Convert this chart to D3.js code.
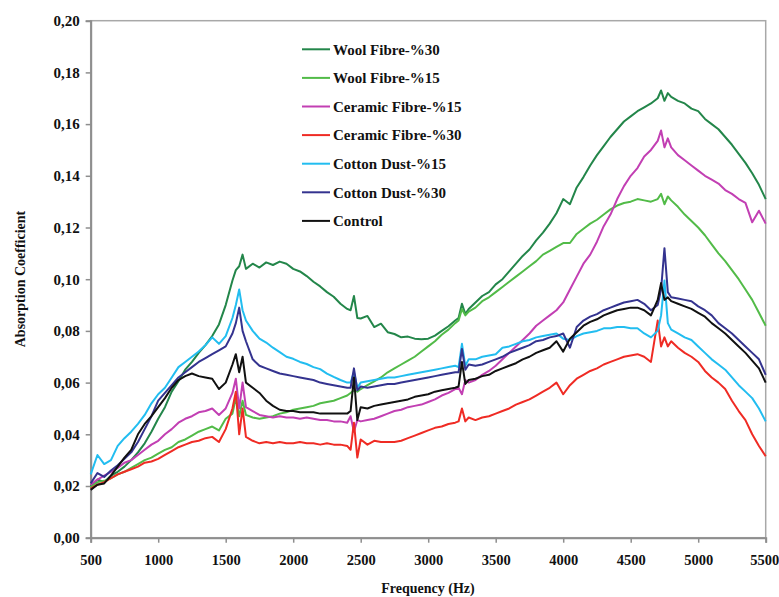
<!DOCTYPE html>
<html>
<head>
<meta charset="utf-8">
<script src="https://cdn.jsdelivr.net/npm/d3@7/dist/d3.min.js"></script>
<style>
  body { margin: 0; background: #fff; }
  text { font-family: "Liberation Serif", "Times New Roman", serif; font-weight: bold; fill: #111; }
</style>
</head>
<body>
<svg id="chart" width="779" height="597"></svg>
<script>
// Measurement frequencies (Hz)
const frequencies = [
  500,550,600,650,700,750,800,850,900,950,1000,1050,1100,1150,1200,1250,1300,1350,1400,1450,1500,1550,
  1575,1600,1625,1650,
  1700,1750,1800,1850,1900,1950,2000,2050,2100,2150,2200,2250,2300,2350,2400,
  2425,2450,2475,2500,
  2550,2600,2650,2700,2750,2800,2850,2900,2950,3000,3050,3100,3150,3200,
  3225,3250,3275,3300,
  3350,3400,3450,3500,3550,3600,3650,3700,3750,3800,3850,3900,3950,4000,4050,4100,4150,4200,4250,4300,4350,4400,4450,4500,4550,4600,4650,4700,
  4725,4750,4775,4800,
  4850,4900,4950,5000,5050,5100,5150,5200,5250,5300,5350,5400,5450,5500
];

const woolFibre30 = [
  .0200,.0225,.0215,.0240,.0255,.0275,.0300,.0330,.0365,.0410,.0460,.0505,.0565,.0605,.0650,.0680,.0715,.0745,.0780,.0825,.0900,.0995,
  .1035,.1050,.1095,.1040,
  .1060,.1045,.1065,.1055,.1068,.1060,.1040,.1030,.1012,.0990,.0972,.0950,.0932,.0905,.0885,
  .0880,.0935,.0850,.0848,
  .0858,.0815,.0828,.0795,.0788,.0775,.0778,.0770,.0768,.0770,.0782,.0800,.0818,.0840,
  .0850,.0905,.0865,.0885,
  .0910,.0935,.0950,.0980,.1000,.1030,.1060,.1090,.1115,.1150,.1180,.1215,.1255,.1310,.1290,.1355,.1395,.1440,.1480,.1515,.1550,.1580,.1610,.1630,.1650,.1665,.1680,.1700,
  .1730,.1690,.1720,.1705,
  .1690,.1680,.1660,.1650,.1620,.1600,.1580,.1550,.1520,.1485,.1450,.1410,.1365,.1310
];

const woolFibre15 = [
  .0195,.0215,.0220,.0230,.0245,.0255,.0270,.0285,.0300,.0310,.0325,.0340,.0350,.0370,.0380,.0395,.0410,.0420,.0430,.0415,.0460,.0480,
  .0540,.0470,.0530,.0475,
  .0465,.0460,.0465,.0470,.0480,.0485,.0495,.0500,.0505,.0510,.0520,.0525,.0530,.0540,.0550,
  .0560,.0570,.0565,.0575,
  .0590,.0605,.0620,.0640,.0655,.0670,.0685,.0700,.0720,.0740,.0760,.0785,.0805,.0830,
  .0840,.0885,.0860,.0875,
  .0890,.0915,.0930,.0950,.0970,.0990,.1010,.1030,.1050,.1070,.1095,.1110,.1125,.1140,.1140,.1175,.1195,.1215,.1230,.1250,.1270,.1285,.1295,.1300,.1310,.1305,.1300,.1310,
  .1330,.1290,.1320,.1305,
  .1280,.1250,.1225,.1200,.1170,.1135,.1100,.1070,.1035,.1000,.0960,.0920,.0870,.0820
];

const ceramicFibre15 = [
  .0205,.0225,.0240,.0255,.0270,.0290,.0300,.0320,.0340,.0360,.0375,.0400,.0420,.0445,.0460,.0470,.0485,.0490,.0500,.0475,.0500,.0560,
  .0615,.0500,.0600,.0505,
  .0490,.0475,.0470,.0465,.0470,.0465,.0465,.0460,.0465,.0460,.0455,.0455,.0450,.0450,.0445,
  .0470,.0410,.0455,.0450,
  .0455,.0460,.0470,.0480,.0490,.0495,.0505,.0510,.0515,.0525,.0535,.0550,.0560,.0575,
  .0580,.0555,.0610,.0600,
  .0610,.0630,.0645,.0665,.0690,.0715,.0740,.0765,.0790,.0820,.0840,.0860,.0880,.0910,.0960,.1010,.1060,.1095,.1145,.1205,.1250,.1310,.1360,.1400,.1430,.1475,.1500,.1535,
  .1575,.1510,.1545,.1510,
  .1480,.1460,.1440,.1420,.1400,.1385,.1370,.1345,.1330,.1310,.1295,.1220,.1265,.1215
];

const ceramicFibre30 = [
  .0190,.0205,.0215,.0230,.0245,.0255,.0265,.0275,.0290,.0295,.0305,.0320,.0335,.0350,.0360,.0370,.0375,.0385,.0390,.0370,.0420,.0500,
  .0565,.0400,.0500,.0390,
  .0375,.0365,.0370,.0365,.0370,.0365,.0365,.0370,.0365,.0365,.0360,.0365,.0360,.0360,.0355,
  .0340,.0445,.0310,.0380,
  .0360,.0375,.0370,.0370,.0370,.0375,.0385,.0395,.0405,.0415,.0425,.0430,.0440,.0445,
  .0450,.0500,.0450,.0465,
  .0455,.0465,.0470,.0480,.0490,.0500,.0515,.0525,.0535,.0550,.0565,.0580,.0600,.0555,.0590,.0615,.0630,.0645,.0655,.0670,.0680,.0690,.0700,.0705,.0710,.0700,.0680,.0840,
  .0740,.0775,.0740,.0760,
  .0735,.0715,.0700,.0680,.0645,.0620,.0600,.0575,.0530,.0490,.0455,.0400,.0355,.0315
];

const cottonDust15 = [
  .0245,.0320,.0285,.0300,.0355,.0385,.0410,.0440,.0475,.0520,.0555,.0580,.0620,.0660,.0680,.0700,.0720,.0745,.0775,.0750,.0780,.0850,
  .0900,.0960,.0880,.0840,
  .0800,.0770,.0755,.0735,.0718,.0700,.0692,.0680,.0672,.0660,.0652,.0635,.0622,.0610,.0600,
  .0600,.0640,.0580,.0600,
  .0605,.0610,.0615,.0620,.0620,.0625,.0630,.0635,.0640,.0645,.0650,.0655,.0660,.0665,
  .0660,.0750,.0665,.0690,
  .0690,.0700,.0705,.0710,.0735,.0740,.0750,.0760,.0765,.0775,.0780,.0785,.0790,.0770,.0765,.0780,.0790,.0795,.0800,.0810,.0810,.0815,.0815,.0810,.0810,.0790,.0775,.0800,
  .0860,.0995,.0830,.0805,
  .0790,.0775,.0765,.0740,.0715,.0690,.0670,.0650,.0620,.0590,.0565,.0540,.0500,.0450
];

const cottonDust30 = [
  .0210,.0250,.0235,.0260,.0280,.0305,.0330,.0370,.0420,.0470,.0530,.0560,.0590,.0620,.0640,.0660,.0680,.0695,.0710,.0725,.0740,.0790,
  .0830,.0890,.0800,.0760,
  .0690,.0665,.0655,.0645,.0635,.0630,.0625,.0620,.0615,.0610,.0600,.0595,.0590,.0585,.0580,
  .0580,.0655,.0570,.0585,
  .0580,.0585,.0590,.0595,.0595,.0600,.0605,.0610,.0615,.0620,.0625,.0630,.0635,.0640,
  .0640,.0730,.0650,.0670,
  .0665,.0670,.0680,.0690,.0700,.0715,.0725,.0735,.0745,.0760,.0765,.0775,.0780,.0790,.0735,.0815,.0840,.0855,.0865,.0880,.0890,.0900,.0910,.0915,.0920,.0905,.0880,.0900,
  .0960,.1120,.0950,.0930,
  .0925,.0920,.0915,.0895,.0880,.0860,.0830,.0810,.0790,.0765,.0740,.0715,.0690,.0630
];

const control = [
  .0185,.0205,.0210,.0240,.0275,.0310,.0340,.0400,.0440,.0470,.0505,.0540,.0580,.0610,.0625,.0635,.0625,.0620,.0615,.0575,.0600,.0670,
  .0710,.0640,.0700,.0600,
  .0580,.0560,.0530,.0510,.0495,.0490,.0490,.0485,.0485,.0485,.0480,.0480,.0480,.0480,.0480,
  .0490,.0620,.0455,.0505,
  .0500,.0510,.0515,.0520,.0525,.0530,.0535,.0545,.0550,.0555,.0565,.0570,.0575,.0580,
  .0585,.0680,.0595,.0610,
  .0615,.0625,.0630,.0645,.0655,.0665,.0675,.0690,.0700,.0715,.0725,.0735,.0760,.0720,.0770,.0795,.0820,.0835,.0845,.0860,.0870,.0880,.0885,.0890,.0890,.0880,.0860,.0920,
  .0985,.0920,.0930,.0915,
  .0905,.0895,.0885,.0870,.0855,.0830,.0810,.0790,.0765,.0740,.0715,.0685,.0655,.0600
];

const seriesNames = ["Wool Fibre-%30", "Wool Fibre-%15", "Ceramic Fibre-%15", "Ceramic Fibre-%30",
                     "Cotton Dust-%15", "Cotton Dust-%30", "Control"];
const seriesValues = [woolFibre30, woolFibre15, ceramicFibre15, ceramicFibre30, cottonDust15, cottonDust30, control];
const seriesColors = ["#23864a", "#52bb48", "#c23fb3", "#ef2b24", "#22bdf0", "#34338f", "#111111"];

const xTicks = [500, 1000, 1500, 2000, 2500, 3000, 3500, 4000, 4500, 5000, 5500];
const yTicks = [0, 0.02, 0.04, 0.06, 0.08, 0.10, 0.12, 0.14, 0.16, 0.18, 0.20];

const svg = d3.select("#chart");
const plot = { left: 90.7, right: 765.7, top: 20.7, bottom: 537.7 };

const x = d3.scaleLinear().domain([500, 5500]).range([plot.left, plot.right]);
const y = d3.scaleLinear().domain([0, 0.2]).range([plot.bottom, plot.top]);

// plot-area frame
svg.append("rect")
  .attr("x", plot.left).attr("y", plot.top)
  .attr("width", plot.right - plot.left).attr("height", plot.bottom - plot.top)
  .attr("fill", "none").attr("stroke", "#a8a8a8").attr("stroke-width", 1.5);

const commaFmt = v => d3.format(".2f")(v).replace(".", ",");

const yAxis = svg.append("g")
  .attr("transform", `translate(${plot.left},0)`)
  .call(d3.axisLeft(y).tickValues(yTicks).tickSize(5).tickPadding(6).tickFormat(commaFmt));

const xAxis = svg.append("g")
  .attr("transform", `translate(0,${plot.bottom})`)
  .call(d3.axisBottom(x).tickValues(xTicks).tickSize(5).tickPadding(12).tickFormat(d3.format("d")));

[yAxis, xAxis].forEach(g => {
  g.select(".domain").attr("stroke", "#8e8e8e").attr("stroke-width", 2);
  g.selectAll(".tick line").attr("stroke", "#8e8e8e").attr("stroke-width", 1.5);
  g.selectAll(".tick text")
    .style("font-family", "'Liberation Serif', 'Times New Roman', serif")
    .style("font-weight", "bold").style("font-size", "15px").attr("fill", "#111");
});
// keep the last frequency label inside the canvas edge
xAxis.selectAll(".tick text")
  .style("font-size", "14.5px")
  .attr("text-anchor", d => d === 5500 ? "end" : "middle")
  .attr("dx", d => d === 5500 ? "13px" : null);

// series lines
const line = d3.line()
  .x((d, i) => x(frequencies[i]))
  .y(d => y(d));

svg.append("g").selectAll("path")
  .data(seriesValues)
  .join("path")
  .attr("d", d => line(d))
  .attr("fill", "none")
  .attr("stroke", (d, i) => seriesColors[i])
  .attr("stroke-width", 2)
  .attr("stroke-linejoin", "round");

// legend
const legend = svg.append("g").attr("transform", "translate(302,49.3)");
const rows = legend.selectAll("g").data(seriesNames).join("g")
  .attr("transform", (d, i) => `translate(0,${i * 28.6})`);
rows.append("line")
  .attr("x1", 0).attr("x2", 28).attr("y1", 0).attr("y2", 0)
  .attr("stroke", (d, i) => seriesColors[i]).attr("stroke-width", 2);
rows.append("text")
  .attr("x", 31).attr("y", 0).attr("dy", "0.35em")
  .style("font-size", "15px")
  .text(d => d);

// axis titles
svg.append("text")
  .attr("transform", "translate(25,279) rotate(-90)")
  .attr("text-anchor", "middle")
  .style("font-size", "14px")
  .text("Absorption Coefficient");

svg.append("text")
  .attr("x", 428).attr("y", 593)
  .attr("text-anchor", "middle")
  .style("font-size", "14px")
  .text("Frequency (Hz)");
</script>
</body>
</html>
